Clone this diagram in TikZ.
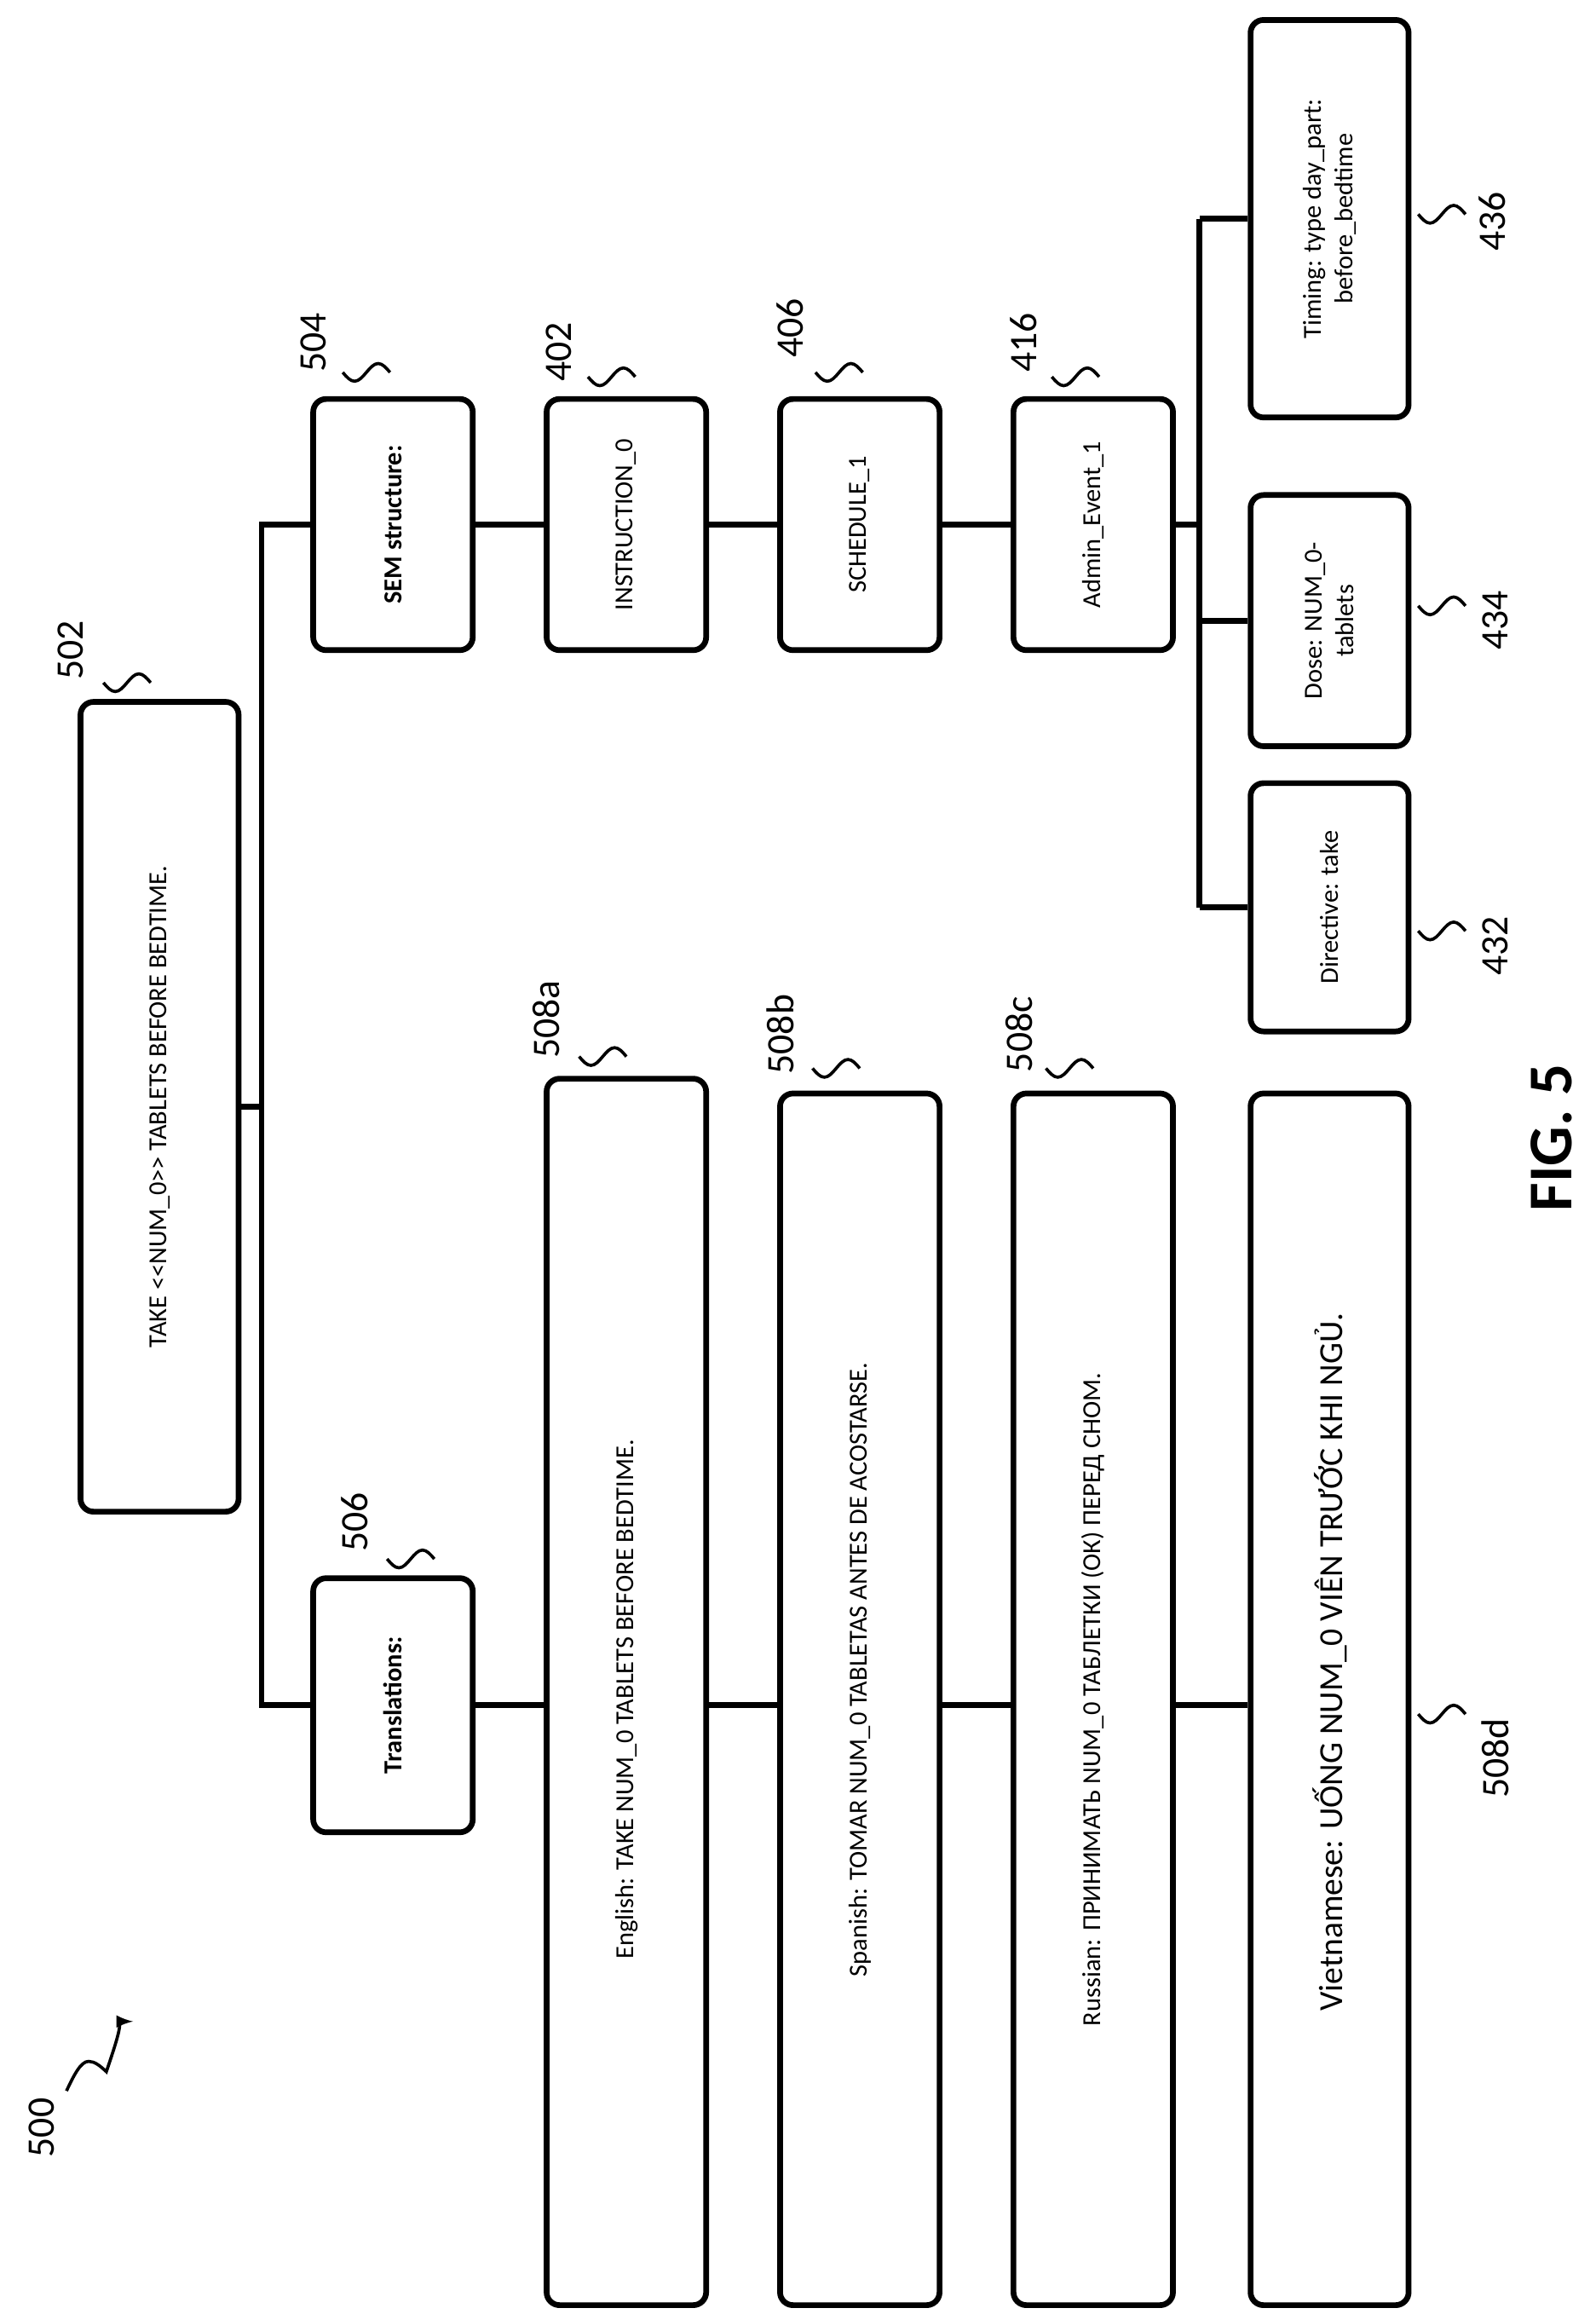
\documentclass[tikz,border=0pt]{standalone}
\usepackage{fontspec}
\setmainfont{Carlito}
\usetikzlibrary{positioning}
\tikzset{
  box/.style={draw, line width=2.2pt, rounded corners=5pt, rotate=90, align=center, font=\fontsize{10}{12}\selectfont, inner sep=0pt},
  link/.style={line width=2.2pt},
  ref/.style={rotate=90, font=\fontsize{15}{17}\selectfont},
  squig/.style={line width=1.2pt}
}
\newcommand{\wiggle}[1]{\draw[squig] (#1) sin ++(8,6) cos ++(8,-6) sin ++(8,-6) cos ++(8,6);}
\begin{document}
\begin{tikzpicture}[x=0.02cm, y=-0.02cm]
\useasboundingbox (0,0) rectangle (1080,1566);
% top sentence
\node[box, minimum width=548*0.02cm, minimum height=107*0.02cm] (take) at (108,749) {TAKE <{}<NUM\_0>{}> TABLETS BEFORE BEDTIME.};
% SEM branch
\node[box, minimum width=3.4cm, minimum height=2.16cm] (sem) at (266,355) {\textbf{SEM structure:}};
\node[box, minimum width=3.4cm, minimum height=2.16cm] (instr) at (424,355) {INSTRUCTION\_0};
\node[box, minimum width=3.4cm, minimum height=2.16cm] (sched) at (582,355) {SCHEDULE\_1};
\node[box, minimum width=3.4cm, minimum height=2.16cm] (admin) at (740,355) {Admin\_Event\_1};
\node[box, minimum width=269*0.02cm, minimum height=2.14cm] (timing) at (900,148) {Timing: type day\_part:\\before\_bedtime};
\node[box, minimum width=3.4cm, minimum height=2.14cm] (dose) at (900,420) {Dose: NUM\_0-\\tablets};
\node[box, minimum width=168*0.02cm, minimum height=2.14cm] (direct) at (900,614) {Directive: take};
% translation branch
\node[box, minimum width=3.44cm, minimum height=2.16cm] (trans) at (266,1154) {\textbf{Translations:}};
\node[box, minimum width=830*0.02cm, minimum height=2.16cm] (en) at (424,1145) {};
\node[box, minimum width=820*0.02cm, minimum height=2.16cm] (es) at (582,1150) {};
\node[box, minimum width=820*0.02cm, minimum height=2.16cm] (ru) at (740,1150) {};
\node[box, minimum width=820*0.02cm, minimum height=2.14cm] (vi) at (900,1150) {};
\node[box, draw=none] (entxt) at (424,1150) {English: TAKE NUM\_0 TABLETS BEFORE BEDTIME.};
\node[box, draw=none] (estxt) at (582,1130) {Spanish: TOMAR NUM\_0 TABLETAS ANTES DE ACOSTARSE.};
\node[box, draw=none] (rutxt) at (740,1150) {Russian: ПРИНИМАТЬ NUM\_0 ТАБЛЕТКИ (ОК) ПЕРЕД СНОМ.};
\node[box, draw=none, font=\fontsize{13}{15}\selectfont] (vitxt) at (900,1125) {Vietnamese: UỐNG NUM\_0 VIÊN TRƯỚC KHI NGỦ.};
% connectors
\coordinate (trunk) at (177,749);
\draw[link] (take.south) -- (trunk) -- (trunk |- sem.north) -- (sem.north);
\draw[link] (trunk) -- (trunk |- trans.north) -- (trans.north);
\draw[link] (sem) -- (instr) (instr) -- (sched) (sched) -- (admin);
\coordinate (fork) at (812,355);
\draw[link] (admin.south) -- (fork);
\draw[link] (fork |- timing.north) -- (fork |- direct.north);
\draw[link] (fork |- timing.north) -- (timing.north) (fork |- dose.north) -- (dose.north) (fork |- direct.north) -- (direct.north);
\draw[link] (trans.south) -- (trans.south -| en.north);
\draw[link] (en.south |- trans.south) -- (es.north |- trans.south);
\draw[link] (es.south |- trans.south) -- (ru.north |- trans.south);
\draw[link] (ru.south |- trans.south) -- (vi.north |- trans.south);
% reference numerals
\node[ref] (n502) at (48,440) {502}; \wiggle{70,462}
\node[ref] (n504) at (212,232) {504}; \wiggle{232,252}
\node[ref] (n402) at (378,238) {402}; \wiggle{398,255}
\node[ref] (n406) at (535,222) {406}; \wiggle{552,252}
\node[ref] (n416) at (693,232) {416}; \wiggle{712,255}
\node[ref] (n436) at (1010,150) {436}; \wiggle{960,145}
\node[ref] (n434) at (1012,420) {434}; \wiggle{960,410}
\node[ref] (n432) at (1012,640) {432}; \wiggle{960,630}
\node[ref] (n506) at (240,1030) {506}; \wiggle{262,1055}
\node[ref] (n508a) at (370,690) {508a}; \wiggle{392,715}
\node[ref] (n508b) at (528,700) {508b}; \wiggle{550,723}
\node[ref] (n508c) at (690,700) {508c}; \wiggle{708,723}
\node[ref] (n508d) at (1012,1190) {508d}; \wiggle{960,1160}
\node[ref] (n500) at (28,1440) {500};
\coordinate (p500) at (90,1368);
\draw[squig, -latex] (45,1415) sin (60,1395) cos (72,1402) sin (p500);
\node[rotate=90, font=\fontsize{24}{26}\selectfont\bfseries] (fig) at (1050,770) {FIG. 5};
\end{tikzpicture}
\end{document}
